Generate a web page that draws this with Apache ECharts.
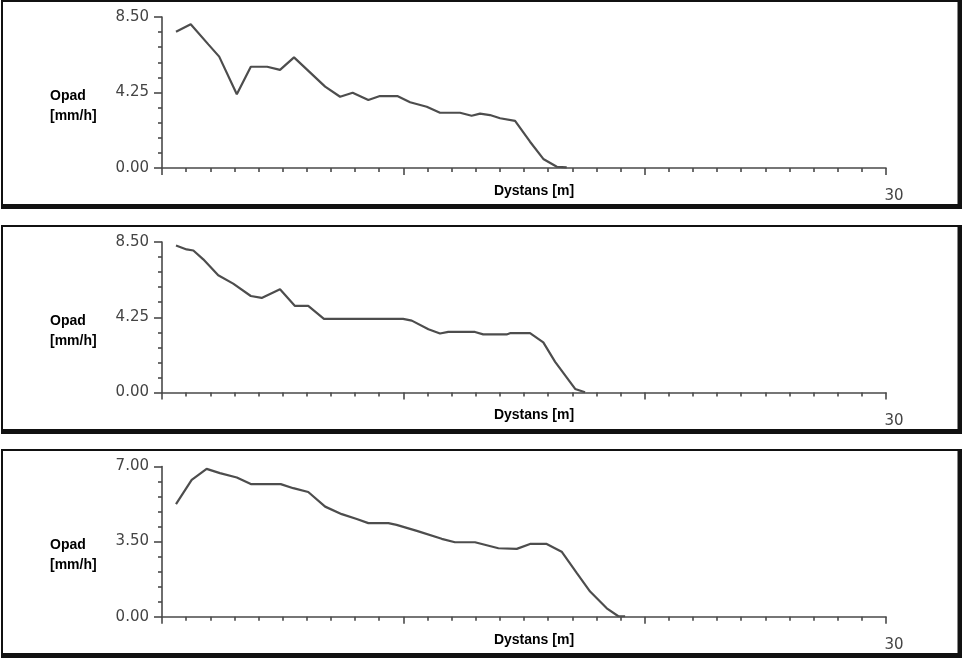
<!DOCTYPE html>
<html>
<head>
<meta charset="utf-8">
<script src="https://cdn.jsdelivr.net/npm/echarts@6/dist/echarts.min.js"></script>
<style>
html,body{margin:0;padding:0;background:#fff;}
#c{width:965px;height:659px;}
</style>
</head>
<body>
<div id="c"></div>
<script>
// ---- data ----
const dist1 = [0.58,1.19,1.92,2.37,3.10,3.68,4.36,4.89,5.47,6.76,7.38,7.90,8.55,9.03,9.75,10.28,10.97,11.52,12.35,12.83,13.18,13.59,14.01,14.63,15.25,15.80,16.36,16.77];
const rain1 = [7.67,8.09,6.96,6.27,4.15,5.70,5.70,5.52,6.23,4.58,4.01,4.24,3.83,4.05,4.05,3.70,3.45,3.11,3.11,2.94,3.06,2.98,2.80,2.65,1.48,0.51,0.07,0.04];

const dist2 = [0.58,1.02,1.30,1.71,2.33,2.95,3.68,4.13,4.89,5.51,6.06,6.71,9.99,10.35,11.04,11.52,11.86,12.97,13.31,14.28,14.42,15.25,15.80,16.29,17.12,17.53];
const rain2 = [8.30,8.08,8.02,7.52,6.62,6.15,5.45,5.34,5.83,4.89,4.89,4.16,4.16,4.06,3.57,3.33,3.42,3.42,3.28,3.28,3.35,3.35,2.83,1.73,0.20,0.01];

const dist3 = [0.58,1.23,1.85,2.40,3.10,3.68,4.92,5.44,6.06,6.76,7.45,8.07,8.55,9.38,9.72,10.56,11.59,12.14,12.97,13.94,14.70,15.25,15.94,16.56,17.19,17.74,18.43,18.91,19.19];
const rain3 = [5.25,6.38,6.89,6.69,6.49,6.18,6.18,5.99,5.81,5.13,4.78,4.55,4.36,4.36,4.28,4.00,3.63,3.47,3.47,3.19,3.16,3.39,3.39,3.03,2.03,1.17,0.39,0.02,0.02];

const yTicks1 = [0, 4.25, 8.5];
const yTicks2 = [0, 4.25, 8.5];
const yTicks3 = [0, 3.5, 7.0];
const xTickLabels = ['30'];
const xMax = 30;

const xName = 'Dystans [m]';
const yNameLines = ['Opad', '[mm/h]'];

// ---- layout ----
const panels = [
  {top:0, bottom:209, gTop:17, gH:151, dist:dist1, rain:rain1, ticks:yTicks1},
  {top:225, bottom:434, gTop:242, gH:150.5, dist:dist2, rain:rain2, ticks:yTicks2},
  {top:449, bottom:658, gTop:466.5, gH:150.2, dist:dist3, rain:rain3, ticks:yTicks3}
];

const axisColor = '#4a4a4a';
const labelFont = 'DejaVu Sans';
const nameFont = 'Liberation Sans';

const grids = [], xAxes = [], yAxes = [], series = [], graphics = [];

panels.forEach((p, i) => {
  grids.push({left:162, top:p.gTop, width:724, height:p.gH});
  xAxes.push({
    gridIndex:i, type:'value', min:0, max:xMax, interval:10,
    axisLine:{show:true, lineStyle:{color:axisColor, width:1.6}},
    axisTick:{show:true, length:7, lineStyle:{color:axisColor, width:1.6}},
    minorTick:{show:true, splitNumber:10, length:4, lineStyle:{color:axisColor, width:1.6}},
    splitLine:{show:false}, minorSplitLine:{show:false},
    axisLabel:{
      formatter: v => xTickLabels.indexOf(String(v)) >= 0 ? String(v) : '',
      margin:21, padding:[0,0,0,16], fontFamily:labelFont, fontSize:15, color:'#444'
    },
    name:xName, nameLocation:'middle', nameGap:16, nameMoveOverlap:false,
    nameTextStyle:{fontFamily:nameFont, fontWeight:'bold', fontSize:14, color:'#000', padding:[0,0,0,20]}
  });
  const yMax = p.ticks[p.ticks.length-1];
  yAxes.push({
    gridIndex:i, type:'value', min:p.ticks[0], max:yMax, interval:p.ticks[1]-p.ticks[0],
    axisLine:{show:true, lineStyle:{color:axisColor, width:1.6}},
    axisTick:{show:true, length:8, lineStyle:{color:axisColor, width:1.6}},
    minorTick:{show:true, splitNumber:5, length:4, lineStyle:{color:axisColor, width:1.6}},
    splitLine:{show:false}, minorSplitLine:{show:false},
    axisLabel:{formatter: v => v.toFixed(2), margin:13, fontFamily:labelFont, fontSize:15, color:'#444'},
    name:'{s| }\n' + yNameLines.join('\n'), nameLocation:'middle', nameGap:112, nameRotate:0,
    nameMoveOverlap:false,
    nameTextStyle:{fontFamily:nameFont, fontWeight:'bold', fontSize:14, color:'#000',
      align:'left', verticalAlign:'middle', lineHeight:20,
      rich:{s:{fontSize:10, lineHeight:28}}}
  });
  series.push({
    type:'line', xAxisIndex:i, yAxisIndex:i,
    data:p.dist.map((d, k) => [d, p.rain[k]]),
    symbol:'none', silent:true,
    lineStyle:{color:'#4d4d4d', width:2.2}
  });
  const h = p.bottom - p.top;
  graphics.push(
    {type:'rect', shape:{x:1, y:p.top, width:961, height:2}, style:{fill:'#111'}},
    {type:'rect', shape:{x:1, y:p.top, width:2, height:h}, style:{fill:'#111'}},
    {type:'rect', shape:{x:957.5, y:p.top, width:4.5, height:h}, style:{fill:'#111'}},
    {type:'rect', shape:{x:1, y:p.bottom-5, width:961, height:5}, style:{fill:'#111'}}
  );
});

const chart = echarts.init(document.getElementById('c'));
chart.setOption({
  animation:false,
  backgroundColor:'#fff',
  grid:grids, xAxis:xAxes, yAxis:yAxes, series:series,
  graphic:graphics
});
</script>
</body>
</html>
